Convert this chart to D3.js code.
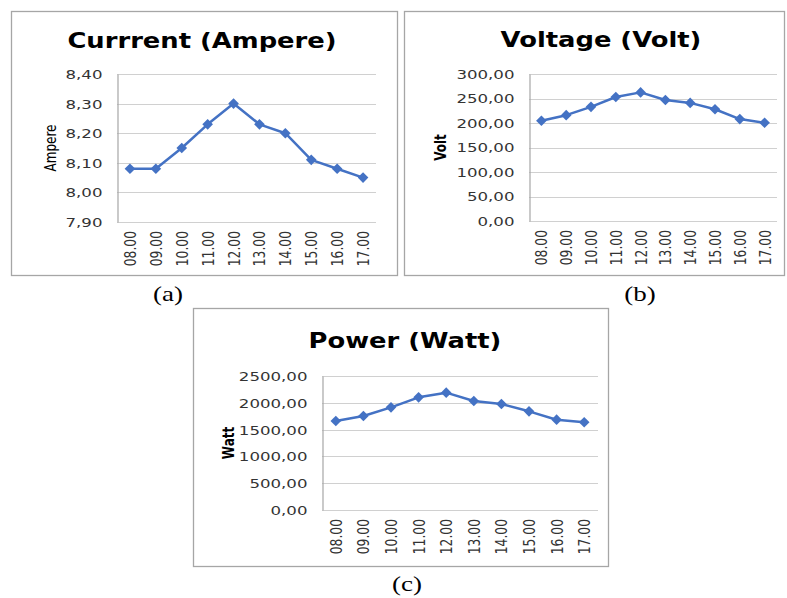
<!DOCTYPE html>
<html>
<head>
<meta charset="utf-8">
<script src="https://cdn.jsdelivr.net/npm/d3@7"></script>
<style>
  body { margin: 0; background: #fff; }
  svg { display: block; }
</style>
</head>
<body>
<script>
// data
var hours = ["08.00", "09.00", "10.00", "11.00", "12.00", "13.00", "14.00", "15.00", "16.00", "17.00"];
var currentA = [8.08, 8.08, 8.15, 8.23, 8.30, 8.23, 8.20, 8.11, 8.08, 8.05];
var voltageV = [204.5, 216, 233, 253, 262.5, 247, 241, 228, 208, 200.5];
var powerW = [1660, 1754, 1915, 2102, 2189, 2034, 1978, 1841, 1685, 1636];

var currentTicks = [7.9, 8.0, 8.1, 8.2, 8.3, 8.4];
var voltageTicks = [0, 50, 100, 150, 200, 250, 300];
var powerTicks = [0, 500, 1000, 1500, 2000, 2500];

var titles = ["Currrent (Ampere)", "Voltage (Volt)", "Power (Watt)"];
var axisTitles = ["Ampere", "Volt", "Watt"];
var captions = ["(a)", "(b)", "(c)"];

// sizing / look
var W = 787, H = 598,
    sx = 1.35,           // the picture is stretched sideways
    blue = "#4472c4",
    gridCol = "#d0d0d0",
    axisCol = "#a6a6a6",
    tickCol = "#333";

var fmt = d3.formatLocale({decimal: ",", thousands: "", grouping: [3], currency: ["", ""]}).format(".2f");

var svg = d3.select("body").append("svg")
    .attr("width", W)
    .attr("height", H);

svg.append("rect").attr("width", W).attr("height", H).attr("fill", "#fff");

var panels = [
  {box: [11, 11, 397, 275], plot: {l: 117, r: 376, t: 74, b: 222}, values: currentA, ticks: currentTicks,
   title: titles[0], titleX: 202, titleY: 48, yTitle: axisTitles[0], yTitleX: 50, yBold: false,
   caption: captions[0], capX: 168, capY: 301},
  {box: [404, 11, 784, 275], plot: {l: 529, r: 777, t: 74, b: 221}, values: voltageV, ticks: voltageTicks,
   title: titles[1], titleX: 601, titleY: 47, yTitle: axisTitles[1], yTitleX: 440, yBold: true,
   caption: captions[1], capX: 640, capY: 301},
  {box: [193, 308, 608, 566], plot: {l: 322, r: 598, t: 376, b: 510}, values: powerW, ticks: powerTicks,
   title: titles[2], titleX: 405, titleY: 348, yTitle: axisTitles[2], yTitleX: 228, yBold: true,
   caption: captions[2], capX: 407, capY: 591}
];

panels.forEach(drawPanel);

function drawPanel(p) {
  var g = svg.append("g");
  var pl = p.plot;

  // chart frame
  g.append("rect")
   .attr("x", p.box[0] + 0.5).attr("y", p.box[1] + 0.5)
   .attr("width", p.box[2] - p.box[0]).attr("height", p.box[3] - p.box[1])
   .attr("fill", "#fff").attr("stroke", axisCol).attr("stroke-width", 1.3);

  var x = d3.scaleBand().domain(hours).range([pl.l, pl.r]),
      y = d3.scaleLinear().domain(d3.extent(p.ticks)).range([pl.b, pl.t]);

  // gridlines
  g.append("g").selectAll("line")
   .data(p.ticks)
   .enter().append("line")
   .attr("x1", pl.l).attr("x2", pl.r)
   .attr("y1", d => Math.round(y(d)) + 0.5).attr("y2", d => Math.round(y(d)) + 0.5)
   .attr("stroke", gridCol).attr("stroke-width", 1.2);

  // y axis
  var ay = g.append("g")
   .attr("transform", "translate(" + (pl.l + 0.5) + ",0)")
   .call(d3.axisLeft(y).tickValues(p.ticks).tickFormat(fmt).tickSize(0).tickSizeOuter(0));
  ay.select(".domain").attr("stroke", axisCol).attr("stroke-width", 1.2);
  ay.selectAll("text")
    .attr("x", 0).attr("dy", "0.36em")
    .attr("transform", "translate(-15,0) scale(" + sx + ",1)")
    .attr("font-family", "DejaVu Sans").attr("font-size", 12.3)
    .attr("fill", tickCol);

  // x axis
  var ax = g.append("g")
   .attr("transform", "translate(0," + pl.b + ")")
   .call(d3.axisBottom(x).tickSize(0).tickSizeOuter(0));
  ax.select(".domain").remove();
  ax.selectAll("text")
    .attr("x", 0).attr("y", 0).attr("dy", "0.36em")
    .attr("text-anchor", "end")
    .attr("transform", "translate(0,9) scale(" + sx + ",1) rotate(-90)")
    .attr("font-family", "DejaVu Sans").attr("font-size", 12.3)
    .attr("fill", tickCol);

  // line + diamond markers
  var pts = p.values.map((v, i) => [x(hours[i]) + x.bandwidth() / 2, y(v)]);

  g.append("path")
   .datum(pts)
   .attr("d", d3.line())
   .attr("fill", "none")
   .attr("stroke", blue)
   .attr("stroke-width", 2.5)
   .attr("stroke-linejoin", "round");

  g.append("g").selectAll("path")
   .data(pts)
   .enter().append("path")
   .attr("d", d3.symbol().type(d3.symbolDiamond2).size(72))
   .attr("transform", d => "translate(" + d[0] + "," + d[1] + ")")
   .attr("fill", blue);

  // titles
  g.append("text")
   .attr("transform", "translate(" + p.titleX + "," + p.titleY + ") scale(1.2,1)")
   .attr("text-anchor", "middle")
   .attr("font-family", "DejaVu Sans").attr("font-weight", "bold").attr("font-size", 21.5)
   .attr("fill", "#000")
   .text(p.title);

  g.append("text")
   .attr("transform", "translate(" + p.yTitleX + "," + ((pl.t + pl.b) / 2) + ") scale(" + sx + ",1) rotate(-90)")
   .attr("text-anchor", "middle").attr("dy", "0.36em")
   .attr("font-family", "DejaVu Sans").attr("font-size", 12)
   .attr("font-weight", p.yBold ? "bold" : "normal")
   .attr("fill", "#000")
   .text(p.yTitle);

  // caption under the chart
  svg.append("text")
   .attr("transform", "translate(" + p.capX + "," + p.capY + ") scale(" + sx + ",1)")
   .attr("text-anchor", "middle")
   .attr("font-family", "Liberation Serif").attr("font-size", 20)
   .attr("fill", "#000")
   .text(p.caption);
}
</script>
</body>
</html>
